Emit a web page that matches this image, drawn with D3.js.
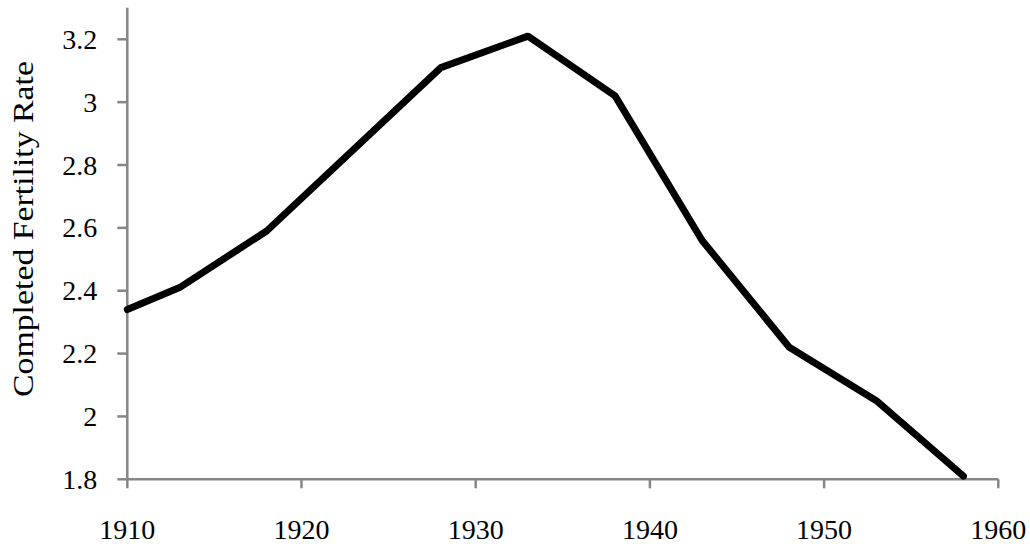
<!DOCTYPE html>
<html>
<head>
<meta charset="utf-8">
<script src="https://cdn.jsdelivr.net/npm/d3@7"></script>
<style>
  html, body { margin: 0; padding: 0; background: #fff; }
  svg { display: block; }
  text { font-family: "Liberation Serif", "DejaVu Serif", serif; fill: #000; }
</style>
</head>
<body>
<svg id="chart" width="1030" height="544"></svg>
<script>
const years = [1910, 1913, 1918, 1928, 1933, 1938, 1943, 1948, 1953, 1958];
const fertility = [2.34, 2.41, 2.59, 3.11, 3.21, 3.02, 2.56, 2.22, 2.05, 1.81];
const xTicks = [1910, 1920, 1930, 1940, 1950, 1960];
const yTicks = [1.8, 2, 2.2, 2.4, 2.6, 2.8, 3, 3.2];
const yTitle = "Completed Fertility Rate";

const svg = d3.select("#chart");
const x = d3.scaleLinear().domain([1910, 1960]).range([127.3, 998.3]);
const y = d3.scaleLinear().domain([1.8, 3.2]).range([479.3, 39.3]);
const yTop = 3.3;
const axisColor = "#868686";

// Y axis line
svg.append("line")
  .attr("x1", x(1910)).attr("x2", x(1910))
  .attr("y1", y(yTop)).attr("y2", y(1.8))
  .attr("stroke", axisColor).attr("stroke-width", 2.5);
// X axis line
svg.append("line")
  .attr("x1", x(1910)).attr("x2", x(1960))
  .attr("y1", y(1.8)).attr("y2", y(1.8))
  .attr("stroke", axisColor).attr("stroke-width", 2.5);

// Y ticks
svg.selectAll(".ytick").data(yTicks).enter().append("line")
  .attr("x1", x(1910) - 10).attr("x2", x(1910))
  .attr("y1", d => y(d)).attr("y2", d => y(d))
  .attr("stroke", axisColor).attr("stroke-width", 2.5);
svg.selectAll(".ylab").data(yTicks).enter().append("text")
  .attr("x", x(1910) - 30).attr("y", d => y(d))
  .attr("dy", "0.34em")
  .attr("text-anchor", "end")
  .attr("font-size", 28)
  .text(d => d3.format("")(+d.toFixed(1)));

// X ticks
svg.selectAll(".xtick").data(xTicks).enter().append("line")
  .attr("x1", d => x(d)).attr("x2", d => x(d))
  .attr("y1", y(1.8)).attr("y2", y(1.8) + 9)
  .attr("stroke", axisColor).attr("stroke-width", 2.5);
svg.selectAll(".xlab").data(xTicks).enter().append("text")
  .attr("x", d => x(d)).attr("y", 539)
  .attr("text-anchor", "middle")
  .attr("font-size", 28)
  .text(d => d);

// Y title
svg.append("text")
  .attr("transform", "translate(33,229) rotate(-90)")
  .attr("text-anchor", "middle")
  .attr("font-size", 30)
  .attr("textLength", 336)
  .attr("lengthAdjust", "spacingAndGlyphs")
  .text(yTitle);

// Line
const pts = years.map((yr, i) => [yr, fertility[i]]);
svg.append("path")
  .datum(pts)
  .attr("fill", "none")
  .attr("stroke", "#000")
  .attr("stroke-width", 7)
  .attr("stroke-linejoin", "round")
  .attr("stroke-linecap", "round")
  .attr("d", d3.line().x(d => x(d[0])).y(d => y(d[1])));
</script>
</body>
</html>
